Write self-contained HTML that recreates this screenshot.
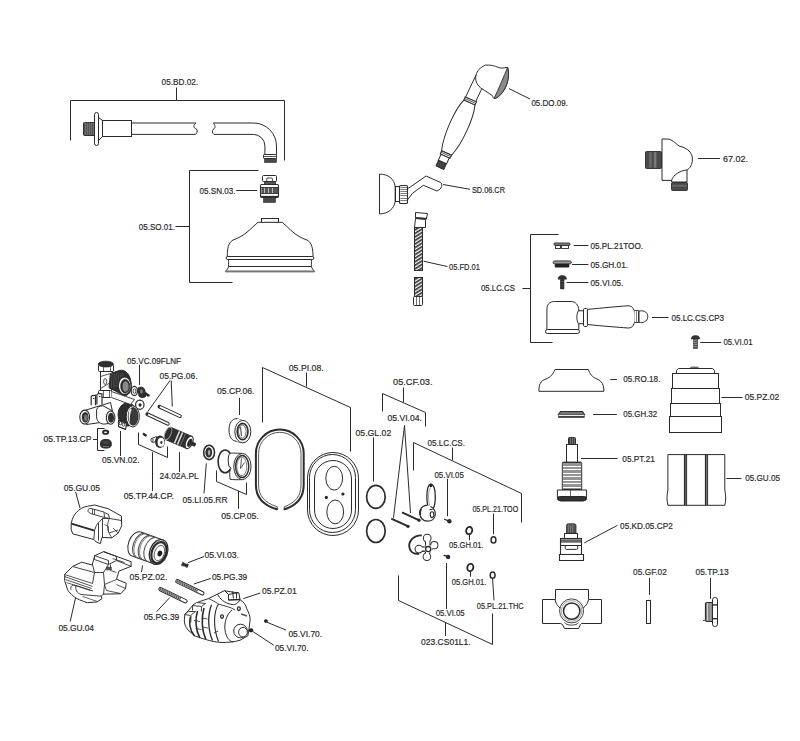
<!DOCTYPE html>
<html><head><meta charset="utf-8"><style>
html,body{margin:0;padding:0;background:#fff;}
svg{display:block;}
text{font-family:"Liberation Sans",sans-serif;fill:#2a2a2a;stroke:#2a2a2a;stroke-width:0.2px;}
</style></head><body>
<svg width="800" height="741" viewBox="0 0 800 741">
<rect width="800" height="741" fill="#fff"/>
<text x="161.6" y="84.7" textLength="36.50" lengthAdjust="spacingAndGlyphs" font-size="9.2">05.BD.02.</text>
<text x="199.5" y="194.2" textLength="36.00" lengthAdjust="spacingAndGlyphs" font-size="9.2">05.SN.03.</text>
<text x="138.75" y="230.2" textLength="36.25" lengthAdjust="spacingAndGlyphs" font-size="9.2">05.SO.01.</text>
<text x="531.4" y="105.6" textLength="36.60" lengthAdjust="spacingAndGlyphs" font-size="9.2">05.DO.09.</text>
<text x="471.9" y="193.2" textLength="33.10" lengthAdjust="spacingAndGlyphs" font-size="9.2">SD.06.CR</text>
<text x="449" y="269.8" textLength="31.00" lengthAdjust="spacingAndGlyphs" font-size="9.2">05.FD.01</text>
<text x="481" y="290.8" textLength="33.90" lengthAdjust="spacingAndGlyphs" font-size="9.2">05.LC.CS</text>
<text x="723" y="162.2" textLength="25.00" lengthAdjust="spacingAndGlyphs" font-size="9.2">67.02.</text>
<text x="590.5" y="249.2" textLength="52.50" lengthAdjust="spacingAndGlyphs" font-size="9.2">05.PL.21TOO.</text>
<text x="590.5" y="267.8" textLength="37.50" lengthAdjust="spacingAndGlyphs" font-size="9.2">05.GH.01.</text>
<text x="590.5" y="285.8" textLength="33.00" lengthAdjust="spacingAndGlyphs" font-size="9.2">05.VI.05.</text>
<text x="671.5" y="320.6" textLength="52.50" lengthAdjust="spacingAndGlyphs" font-size="9.2">05.LC.CS.CP3</text>
<text x="723.4" y="344.6" textLength="29.10" lengthAdjust="spacingAndGlyphs" font-size="9.2">05.VI.01</text>
<text x="127" y="363.7" textLength="54.00" lengthAdjust="spacingAndGlyphs" font-size="9.2">05.VC.09FLNF</text>
<text x="159.5" y="379.2" textLength="38.00" lengthAdjust="spacingAndGlyphs" font-size="9.2">05.PG.06.</text>
<text x="43.5" y="441.95" textLength="48.00" lengthAdjust="spacingAndGlyphs" font-size="9.2">05.TP.13.CP</text>
<text x="102" y="463.2" textLength="37.50" lengthAdjust="spacingAndGlyphs" font-size="9.2">05.VN.02.</text>
<text x="123.75" y="498.7" textLength="50.00" lengthAdjust="spacingAndGlyphs" font-size="9.2">05.TP.44.CP.</text>
<text x="159.5" y="479.2" textLength="39.25" lengthAdjust="spacingAndGlyphs" font-size="9.2">24.02A.PL</text>
<text x="182.5" y="503.2" textLength="45.00" lengthAdjust="spacingAndGlyphs" font-size="9.2">05.LI.05.RR</text>
<text x="63.75" y="490.8" textLength="36.25" lengthAdjust="spacingAndGlyphs" font-size="9.2">05.GU.05</text>
<text x="288.75" y="370.7" textLength="35.00" lengthAdjust="spacingAndGlyphs" font-size="9.2">05.PI.08.</text>
<text x="217" y="394.45" textLength="37.50" lengthAdjust="spacingAndGlyphs" font-size="9.2">05.CP.06.</text>
<text x="221.25" y="519.45" textLength="37.50" lengthAdjust="spacingAndGlyphs" font-size="9.2">05.CP.05.</text>
<text x="355.5" y="435.7" textLength="35.75" lengthAdjust="spacingAndGlyphs" font-size="9.2">05.GL.02</text>
<text x="393" y="385.2" textLength="39.50" lengthAdjust="spacingAndGlyphs" font-size="9.2">05.CF.03.</text>
<text x="387.5" y="421.45" textLength="34.50" lengthAdjust="spacingAndGlyphs" font-size="9.2">05.VI.04.</text>
<text x="427.5" y="446.2" textLength="37.50" lengthAdjust="spacingAndGlyphs" font-size="9.2">05.LC.CS.</text>
<text x="434.5" y="478.2" textLength="29.25" lengthAdjust="spacingAndGlyphs" font-size="9.2">05.VI.05</text>
<text x="472.4" y="511.8" textLength="45.80" lengthAdjust="spacingAndGlyphs" font-size="9.2">05.PL.21.TOO</text>
<text x="449" y="547.5" textLength="34.70" lengthAdjust="spacingAndGlyphs" font-size="9.2">05.GH.01.</text>
<text x="435.7" y="615.5" textLength="29.00" lengthAdjust="spacingAndGlyphs" font-size="9.2">05.VI.05</text>
<text x="451.7" y="584.8" textLength="34.60" lengthAdjust="spacingAndGlyphs" font-size="9.2">05.GH.01.</text>
<text x="476.8" y="608.6" textLength="46.80" lengthAdjust="spacingAndGlyphs" font-size="9.2">05.PL.21.THC</text>
<text x="421" y="644.7" textLength="49.70" lengthAdjust="spacingAndGlyphs" font-size="9.2">023.CS01L1.</text>
<text x="129.6" y="580.4" textLength="37.80" lengthAdjust="spacingAndGlyphs" font-size="9.2">05.PZ.02.</text>
<text x="58.4" y="631.2" textLength="35.60" lengthAdjust="spacingAndGlyphs" font-size="9.2">05.GU.04</text>
<text x="143.7" y="619.7" textLength="35.60" lengthAdjust="spacingAndGlyphs" font-size="9.2">05.PG.39</text>
<text x="204.5" y="557.95" textLength="34.40" lengthAdjust="spacingAndGlyphs" font-size="9.2">05.VI.03.</text>
<text x="211.9" y="580.45" textLength="35.30" lengthAdjust="spacingAndGlyphs" font-size="9.2">05.PG.39</text>
<text x="262" y="594.4" textLength="34.70" lengthAdjust="spacingAndGlyphs" font-size="9.2">05.PZ.01</text>
<text x="288.4" y="637.2" textLength="33.70" lengthAdjust="spacingAndGlyphs" font-size="9.2">05.VI.70.</text>
<text x="274.9" y="651.3" textLength="33.70" lengthAdjust="spacingAndGlyphs" font-size="9.2">05.VI.70.</text>
<text x="623.3" y="382.45" textLength="37.10" lengthAdjust="spacingAndGlyphs" font-size="9.2">05.RO.18.</text>
<text x="623.3" y="417.2" textLength="33.80" lengthAdjust="spacingAndGlyphs" font-size="9.2">05.GH.32</text>
<text x="622.3" y="461.6" textLength="32.50" lengthAdjust="spacingAndGlyphs" font-size="9.2">05.PT.21</text>
<text x="744.7" y="400.4" textLength="34.60" lengthAdjust="spacingAndGlyphs" font-size="9.2">05.PZ.02</text>
<text x="745.2" y="480.6" textLength="34.80" lengthAdjust="spacingAndGlyphs" font-size="9.2">05.GU.05</text>
<text x="620.1" y="528.5" textLength="52.65" lengthAdjust="spacingAndGlyphs" font-size="9.2">05.KD.05.CP2</text>
<text x="633.1" y="575.3" textLength="33.80" lengthAdjust="spacingAndGlyphs" font-size="9.2">05.GF.02</text>
<text x="695.5" y="575.3" textLength="33.10" lengthAdjust="spacingAndGlyphs" font-size="9.2">05.TP.13</text>
<path d="M70.5,140.5 V100.5 H284.5 V160.5" fill="none" stroke="#2b2b2b" stroke-width="1.0" />
<line x1="176.5" y1="87.5" x2="176.5" y2="100.3" stroke="#2b2b2b" stroke-width="1.0"/>
<rect x="83.5" y="122.5" width="12.0" height="13.0" rx="1" fill="#555" stroke="#2b2b2b" stroke-width="1.0" />
<line x1="85.5" y1="122.5" x2="85.5" y2="135" stroke="#888" stroke-width="0.5"/>
<line x1="87.5" y1="122.5" x2="87.5" y2="135" stroke="#888" stroke-width="0.5"/>
<line x1="89.5" y1="122.5" x2="89.5" y2="135" stroke="#888" stroke-width="0.5"/>
<line x1="91.5" y1="122.5" x2="91.5" y2="135" stroke="#888" stroke-width="0.5"/>
<line x1="93.5" y1="122.5" x2="93.5" y2="135" stroke="#888" stroke-width="0.5"/>
<rect x="94.5" y="112.5" width="4.0" height="33.0" rx="2" fill="#fff" stroke="#2b2b2b" stroke-width="1.0" />
<path d="M98.5,117.5 L102.5,120.5 M98.5,140.5 L102.5,136.5" fill="none" stroke="#2b2b2b" stroke-width="1.0" />
<rect x="102.5" y="120.5" width="29.0" height="16.0" rx="0" fill="#fff" stroke="#2b2b2b" stroke-width="1.0" />
<path d="M131.8,123 H196 C193,125 193,128 196.5,129 C198,131 197,133 195.5,134.4 H131.8" fill="none" stroke="#2b2b2b" stroke-width="1.0" />
<path d="M213.3,123 H253.5 A23,23 0 0 1 276.5,146 V155.7 M264.9,155.7 V146 A11.6,11.6 0 0 0 253.3,134.4 H214 C212,133 212,131 213.5,129 C216,128 215,125 213.3,123" fill="none" stroke="#2b2b2b" stroke-width="1.0" />
<rect x="263.5" y="154.5" width="13.0" height="4.0" rx="0.8" fill="#fff" stroke="#2b2b2b" stroke-width="1.0" />
<line x1="263.8" y1="156.5" x2="276.8" y2="156.5" stroke="#2b2b2b" stroke-width="0.8"/>
<rect x="264.5" y="158.5" width="12.0" height="4.0" rx="0" fill="#4a4a4a" stroke="#2b2b2b" stroke-width="0.6" />
<path d="M258.5,170.5 H189.5 V282.5 H232.5" fill="none" stroke="#2b2b2b" stroke-width="1.0" />
<line x1="175.5" y1="226.5" x2="189.5" y2="226.5" stroke="#2b2b2b" stroke-width="1.0"/>
<line x1="236.2" y1="190.5" x2="257.2" y2="190.5" stroke="#2b2b2b" stroke-width="1.0"/>
<rect x="262.5" y="175.5" width="14.0" height="6.0" rx="1" fill="#fff" stroke="#2b2b2b" stroke-width="1.0" />
<path d="M266.8,181 V178.6 C266.8,178.2 267.2,178 268,178 H271.4 C272,178 272.4,178.2 272.4,178.6 V181" fill="none" stroke="#2b2b2b" stroke-width="0.9" />
<rect x="264.5" y="181.5" width="11.0" height="3.0" rx="0" fill="#555" stroke="#2b2b2b" stroke-width="0.8" />
<rect x="260.5" y="184.5" width="18.0" height="13.0" rx="1.2" fill="#fff" stroke="#2b2b2b" stroke-width="1.1" />
<rect x="261.4" y="187.1" width="16.8" height="6.7" rx="0" fill="#555" stroke="#2b2b2b" stroke-width="0" />
<line x1="264.5" y1="187.1" x2="264.5" y2="193.8" stroke="#bbb" stroke-width="1"/>
<line x1="268.5" y1="187.1" x2="268.5" y2="193.8" stroke="#bbb" stroke-width="1"/>
<line x1="272.5" y1="187.1" x2="272.5" y2="193.8" stroke="#bbb" stroke-width="1"/>
<line x1="261" y1="187.5" x2="278.6" y2="187.5" stroke="#2b2b2b" stroke-width="0.8"/>
<line x1="261" y1="193.5" x2="278.6" y2="193.5" stroke="#2b2b2b" stroke-width="0.8"/>
<line x1="261" y1="196.5" x2="278.6" y2="196.5" stroke="#2b2b2b" stroke-width="1.2"/>
<rect x="263.5" y="197.5" width="12.0" height="5.0" rx="0" fill="#4a4a4a" stroke="#2b2b2b" stroke-width="0.6" />
<rect x="261.5" y="218.5" width="17.0" height="4.0" rx="0" fill="#fff" stroke="#2b2b2b" stroke-width="1.0" />
<path d="M258,222.3 H282.3 C290,229 295,236 307,240 C312,243 313,249 313,256.5 H227.3 C227.3,249 228,243 233,240 C245,236 250,229 258,222.3 Z" fill="#fff" stroke="#2b2b2b" stroke-width="1.0" />
<rect x="226.1" y="256.5" width="87.8" height="3" rx="1.5" fill="#fff" stroke="#2b2b2b" stroke-width="1.0" />
<path d="M228.2,259.5 C229,262 228.5,264 228.6,266.5 M311.8,259.5 C311,262 311.5,264 311.4,266.5" fill="none" stroke="#2b2b2b" stroke-width="1.0" />
<line x1="228.6" y1="266.5" x2="311.4" y2="266.5" stroke="#2b2b2b" stroke-width="1.0"/>
<path d="M228.6,266.5 C228.2,268.5 226.8,270 225.5,271.3 H314.5 C313.2,270 311.8,268.5 311.4,266.5" fill="none" stroke="#2b2b2b" stroke-width="1.0" />
<rect x="225.5" y="270.6" width="89" height="1.8" rx="0" fill="#777" stroke="#2b2b2b" stroke-width="0" />
<line x1="509" y1="88.6" x2="530" y2="99" stroke="#2b2b2b" stroke-width="1.0"/>
<g transform="translate(457.3,129.3) rotate(24.4)">
<path d="M-6,-29.5 C-10.5,-17 -10.5,10 -5.5,26 L5.5,26 C10.5,10 10.5,-17 6,-29.5 Z" fill="#fff" stroke="#2b2b2b" stroke-width="1.0" />
<path d="M-6.2,-33 L6.2,-33 L6,-29.5 L-6,-29.5 Z" fill="#fff" stroke="#2b2b2b" stroke-width="1.0" />
<line x1="-6" y1="-31.2" x2="6" y2="-31.2" stroke="#2b2b2b" stroke-width="0.7"/>
<path d="M-5.5,26 L5.5,26 L5.3,29.5 L-5.3,29.5 Z" fill="#fff" stroke="#2b2b2b" stroke-width="1.0" />
<line x1="-5.4" y1="27.6" x2="5.4" y2="27.6" stroke="#2b2b2b" stroke-width="0.7"/>
<rect x="-4.5" y="29.5" width="9" height="6.5" rx="0" fill="#fff" stroke="#2b2b2b" stroke-width="1.0" />
<rect x="-4.3" y="36" width="8.6" height="6.2" rx="0.5" fill="#444" stroke="#2b2b2b" stroke-width="1.0" />
</g>
<path d="M465.6,97 L476.1,74.9 C477,71 480,67.5 485.5,65.1 C490,64.8 493,65.6 495.3,66.25 C498,67.3 500,68.1 502,68.1 C504,68 506,67.5 507.6,67.4 C510,74 508,87 500.5,94.75 C498,97 496,98.5 494.1,98.5 C493,97.5 492.5,96 492.25,95.5 C489,93.5 485,90.5 482.5,89.1 C481.5,89 481,89.5 481,90.25 L475.75,101.5 Z" fill="#fff" stroke="#2b2b2b" stroke-width="1.0" />
<path d="M507.6,67.4 C510,74 508,87 500.5,94.75 C498,97 496,98.5 494.1,98.5 C499,88 504,76 507.6,67.4 Z" fill="#8a8a8a" stroke="#2b2b2b" stroke-width="0.9" />
<path d="M476.1,74.9 C474.5,80 477,86 482.5,89.1" fill="none" stroke="#2b2b2b" stroke-width="1.0" />
<path d="M379.5,174.1 C388,174.1 394.5,179 395.15,186.5 V201.3 C394.5,208.5 388,213.9 379.5,213.9 Z" fill="#fff" stroke="#2b2b2b" stroke-width="1.0" />
<rect x="395.5" y="186.5" width="4.0" height="15.0" rx="0" fill="#fff" stroke="#2b2b2b" stroke-width="1.0" />
<path d="M407.8,188 L408.7,188.1 L426.1,176 L440.6,182.5 C442.5,184 442.5,189 436.9,191 L423.3,185.3 L412.5,193.3 L407.8,199.5" fill="#fff" stroke="#2b2b2b" stroke-width="1.0" />
<rect x="399.5" y="185.5" width="8.0" height="18.0" rx="1.3" fill="#fff" stroke="#2b2b2b" stroke-width="1.1" />
<line x1="400.3" y1="187.5" x2="407.3" y2="187.5" stroke="#444" stroke-width="0.7"/>
<line x1="400.3" y1="189.5" x2="407.3" y2="189.5" stroke="#444" stroke-width="0.7"/>
<line x1="400.3" y1="191.5" x2="407.3" y2="191.5" stroke="#444" stroke-width="0.7"/>
<line x1="400.3" y1="193.5" x2="407.3" y2="193.5" stroke="#444" stroke-width="0.7"/>
<line x1="400.3" y1="195.5" x2="407.3" y2="195.5" stroke="#444" stroke-width="0.7"/>
<line x1="400.3" y1="198.5" x2="407.3" y2="198.5" stroke="#444" stroke-width="0.7"/>
<line x1="400.3" y1="200.5" x2="407.3" y2="200.5" stroke="#444" stroke-width="0.7"/>
<line x1="443" y1="184.5" x2="470" y2="189.3" stroke="#2b2b2b" stroke-width="1.0"/>
<path d="M415.5,212.5 L427.5,213.5 L426.5,218.5 L415.5,217.5 Z" fill="#fff" stroke="#2b2b2b" stroke-width="1.0" />
<line x1="415.3" y1="218.3" x2="426.8" y2="218.8" stroke="#2b2b2b" stroke-width="1.6"/>
<path d="M415.5,218.5 L425.5,219.5 L425.5,227.5 L414.5,227.5 Z" fill="#fff" stroke="#2b2b2b" stroke-width="1.0" />
<defs><pattern id="hatch" width="3" height="3" patternUnits="userSpaceOnUse" patternTransform="rotate(58)"><rect width="3" height="3" fill="#fff"/><rect width="1.7" height="3" fill="#333"/></pattern></defs>
<rect x="414.5" y="227.5" width="8.0" height="43.0" rx="0" fill="url(#hatch)" stroke="#2b2b2b" stroke-width="1.0" />
<rect x="414.5" y="277.5" width="8.0" height="19.0" rx="0" fill="url(#hatch)" stroke="#2b2b2b" stroke-width="1.0" />
<rect x="413.5" y="296.5" width="9.0" height="9.0" rx="1" fill="#fff" stroke="#2b2b2b" stroke-width="1.0" />
<line x1="416.5" y1="296.3" x2="416.5" y2="305" stroke="#2b2b2b" stroke-width="0.7"/>
<line x1="419.5" y1="296.3" x2="419.5" y2="305" stroke="#2b2b2b" stroke-width="0.7"/>
<line x1="423.7" y1="261.2" x2="447.5" y2="266.6" stroke="#2b2b2b" stroke-width="1.0"/>
<rect x="645.5" y="151.5" width="16.0" height="17.0" rx="1" fill="#4a4a4a" stroke="#2b2b2b" stroke-width="0.9" />
<rect x="649" y="152.1" width="3" height="15.6" rx="0" fill="#666" stroke="#2b2b2b" stroke-width="0" />
<rect x="653.8" y="152.1" width="2.6" height="15.6" rx="0" fill="#7a7a7a" stroke="#2b2b2b" stroke-width="0" />
<path d="M662,139 H667 C672,139 675,143 679,146 C688,148 692.4,153 692.4,159 C692.4,165 690,168 687,170 V182 H671.6 V180.4 H662 Z" fill="#fff" stroke="#2b2b2b" stroke-width="1.0" />
<path d="M671.6,180.4 C673,175 680,170.5 687,170" fill="none" stroke="#2b2b2b" stroke-width="1.0" />
<rect x="671.5" y="182.5" width="16.0" height="8.0" rx="1" fill="#4a4a4a" stroke="#2b2b2b" stroke-width="0.9" />
<rect x="672.1" y="184.8" width="14.8" height="1.8" rx="0" fill="#6a6a6a" stroke="#2b2b2b" stroke-width="0" />
<line x1="698" y1="158.5" x2="720" y2="158.5" stroke="#2b2b2b" stroke-width="1.0"/>
<path d="M558.5,234.5 H530.5 V342.5 H552.5" fill="none" stroke="#2b2b2b" stroke-width="1.0" />
<line x1="522.4" y1="288.5" x2="530.5" y2="288.5" stroke="#2b2b2b" stroke-width="1.0"/>
<rect x="553.9" y="243" width="16.2" height="2.3" rx="1.1" fill="#888" stroke="#2b2b2b" stroke-width="0.9" />
<rect x="555.5" y="245.5" width="5.0" height="3.0" rx="0" fill="#fff" stroke="#2b2b2b" stroke-width="0.9" />
<rect x="561.5" y="245.5" width="7.0" height="3.0" rx="0" fill="#fff" stroke="#2b2b2b" stroke-width="0.9" />
<line x1="573.7" y1="245.5" x2="588.4" y2="245.5" stroke="#2b2b2b" stroke-width="1.0"/>
<rect x="553.1" y="260.9" width="18.2" height="3" rx="1.5" fill="#999" stroke="#2b2b2b" stroke-width="0.9" />
<rect x="554.7" y="263.9" width="14.6" height="3.5" rx="1" fill="#222" stroke="#2b2b2b" stroke-width="0" />
<line x1="572.1" y1="264.5" x2="588.4" y2="264.5" stroke="#2b2b2b" stroke-width="1.0"/>
<path d="M558,279.2 C558,276.6 559.8,275.5 562.2,275.5 C564.6,275.5 566.5,276.6 566.5,279.2 Z" fill="#333" stroke="#2b2b2b" stroke-width="0.6" />
<rect x="560.1" y="279.1" width="4.2" height="10.2" rx="0.8" fill="#2e2e2e" stroke="#2b2b2b" stroke-width="0" />
<line x1="560.3" y1="281.5" x2="564.1" y2="281.5" stroke="#777" stroke-width="0.4"/>
<line x1="560.3" y1="284.5" x2="564.1" y2="284.5" stroke="#777" stroke-width="0.4"/>
<line x1="560.3" y1="286.5" x2="564.1" y2="286.5" stroke="#777" stroke-width="0.4"/>
<line x1="566.5" y1="282.5" x2="588.4" y2="282.5" stroke="#2b2b2b" stroke-width="1.0"/>
<path d="M546.9,329.5 V309.5 C546.9,304.5 549.5,301.5 554.5,301.5 H571 C575.5,301.5 578.8,305 578.8,310.5 V329.5 Z" fill="#fff" stroke="#2b2b2b" stroke-width="1.0" />
<rect x="545.5" y="329.5" width="34.0" height="4.0" rx="2" fill="#fff" stroke="#2b2b2b" stroke-width="1.0" />
<path d="M578.5,310.8 H584 V323.7 H578.5 C576.5,321 576.2,313.5 578.5,310.8 Z" fill="#fff" stroke="#2b2b2b" stroke-width="1.0" />
<rect x="583.5" y="308.5" width="4.0" height="18.0" rx="1.2" fill="#fff" stroke="#2b2b2b" stroke-width="1.0" />
<path d="M587.4,309.4 C602,308 617,306.5 628,305.8 C633,305.6 635,310 635,317 C635,324 633,328.2 628,328 C617,327.2 602,326 587.4,324.5 Z" fill="#fff" stroke="#2b2b2b" stroke-width="1.0" />
<path d="M634.5,310.5 H638.5 V322.5 H634.5" fill="#fff" stroke="#2b2b2b" stroke-width="0.9" />
<line x1="636.5" y1="311.2" x2="636.5" y2="322.8" stroke="#2b2b2b" stroke-width="0.6"/>
<path d="M639,311.2 C642,310.2 647.8,311 647.8,316.6 C647.8,322 642,323.2 639,322.3 Z" fill="#fff" stroke="#2b2b2b" stroke-width="1.0" />
<line x1="652" y1="317.5" x2="668.5" y2="317.5" stroke="#2b2b2b" stroke-width="1.0"/>
<path d="M691.3,339 C691.3,336.5 693,335.6 695.5,335.6 C698,335.6 699.7,336.5 699.7,339 Z" fill="#333" stroke="#2b2b2b" stroke-width="0.6" />
<rect x="693.5" y="338.5" width="4.0" height="10.0" rx="0" fill="#555" stroke="#2b2b2b" stroke-width="0.6" />
<line x1="693.5" y1="340.5" x2="697" y2="340.5" stroke="#bbb" stroke-width="0.5"/>
<line x1="693.5" y1="342.5" x2="697" y2="342.5" stroke="#bbb" stroke-width="0.5"/>
<line x1="693.5" y1="344.5" x2="697" y2="344.5" stroke="#bbb" stroke-width="0.5"/>
<line x1="693.5" y1="346.5" x2="697" y2="346.5" stroke="#bbb" stroke-width="0.5"/>
<line x1="700.3" y1="342.5" x2="721.3" y2="342.5" stroke="#2b2b2b" stroke-width="1.0"/>
<path d="M555,369.5 H588.3 C590,374 592,377 597,379 C602,381 603.9,385 603.9,391.3 H538.9 C538.9,385 540,381 546,379 C551,377 553,374 555,369.5 Z" fill="#fff" stroke="#2b2b2b" stroke-width="1.0" />
<line x1="610.3" y1="379.5" x2="616.8" y2="379.5" stroke="#2b2b2b" stroke-width="1.0"/>
<path d="M560.5,411.5 H582.5 L584.5,414.5 H558.5 Z" fill="#777" stroke="#2b2b2b" stroke-width="1.1" />
<path d="M558.5,414.5 H584.5 V416.5 H558.5 Z" fill="#eee" stroke="#2b2b2b" stroke-width="0.5" />
<line x1="558.3" y1="417" x2="584.6" y2="417" stroke="#2b2b2b" stroke-width="1.6"/>
<line x1="593.1" y1="414.5" x2="616.8" y2="414.5" stroke="#2b2b2b" stroke-width="1.0"/>
<rect x="568.5" y="437.5" width="7.0" height="7.0" rx="1" fill="#444" stroke="#2b2b2b" stroke-width="1.0" />
<line x1="570.5" y1="437.5" x2="570.5" y2="444" stroke="#999" stroke-width="0.5"/>
<line x1="572.5" y1="437.5" x2="572.5" y2="444" stroke="#999" stroke-width="0.5"/>
<line x1="574.5" y1="437.5" x2="574.5" y2="444" stroke="#999" stroke-width="0.5"/>
<rect x="566.5" y="444.5" width="11.0" height="18.0" rx="0" fill="#fff" stroke="#2b2b2b" stroke-width="1.0" />
<path d="M562.3,463.5 C562.3,462.5 563,462.1 564,462.1 H580 C581,462.1 581.7,462.5 581.7,463.5 V489.5 H562.3 Z" fill="#fff" stroke="#2b2b2b" stroke-width="1.0" />
<line x1="562.5" y1="462.8" x2="581.5" y2="462.8" stroke="#2b2b2b" stroke-width="1.4"/>
<line x1="562.5" y1="464.5" x2="581.5" y2="464.5" stroke="#666" stroke-width="0.7"/>
<line x1="562.5" y1="465.5" x2="581.5" y2="465.5" stroke="#666" stroke-width="0.7"/>
<line x1="562.5" y1="467.5" x2="581.5" y2="467.5" stroke="#666" stroke-width="0.7"/>
<line x1="562.5" y1="468.5" x2="581.5" y2="468.5" stroke="#666" stroke-width="0.7"/>
<line x1="562.5" y1="470.5" x2="581.5" y2="470.5" stroke="#666" stroke-width="0.7"/>
<line x1="562.5" y1="471.5" x2="581.5" y2="471.5" stroke="#666" stroke-width="0.7"/>
<line x1="562.5" y1="472.5" x2="581.5" y2="472.5" stroke="#666" stroke-width="0.7"/>
<line x1="562.5" y1="474.5" x2="581.5" y2="474.5" stroke="#666" stroke-width="0.7"/>
<line x1="562.5" y1="475.5" x2="581.5" y2="475.5" stroke="#666" stroke-width="0.7"/>
<line x1="562.5" y1="477.5" x2="581.5" y2="477.5" stroke="#666" stroke-width="0.7"/>
<line x1="562.5" y1="478.5" x2="581.5" y2="478.5" stroke="#666" stroke-width="0.7"/>
<line x1="562.5" y1="479.5" x2="581.5" y2="479.5" stroke="#666" stroke-width="0.7"/>
<line x1="562.5" y1="481.5" x2="581.5" y2="481.5" stroke="#666" stroke-width="0.7"/>
<line x1="562.5" y1="482.5" x2="581.5" y2="482.5" stroke="#666" stroke-width="0.7"/>
<line x1="562.5" y1="484.5" x2="581.5" y2="484.5" stroke="#666" stroke-width="0.7"/>
<line x1="562.5" y1="485.5" x2="581.5" y2="485.5" stroke="#666" stroke-width="0.7"/>
<line x1="562.5" y1="486.5" x2="581.5" y2="486.5" stroke="#666" stroke-width="0.7"/>
<line x1="562.5" y1="488.5" x2="581.5" y2="488.5" stroke="#666" stroke-width="0.7"/>
<path d="M557.4,490 H586.6 V497 C586.6,499 585,501 583,501 H561 C559,501 557.4,499 557.4,497 Z" fill="#fff" stroke="#2b2b2b" stroke-width="1.0" />
<rect x="557.5" y="496.5" width="29.0" height="4.0" rx="2" fill="#333" stroke="#2b2b2b" stroke-width="1.0" />
<line x1="570.5" y1="490" x2="570.5" y2="496" stroke="#2b2b2b" stroke-width="0.7"/>
<line x1="581.1" y1="458.5" x2="617.5" y2="458.5" stroke="#2b2b2b" stroke-width="1.0"/>
<rect x="690.5" y="367.2" width="8" height="2" rx="1" fill="#fff" stroke="#2b2b2b" stroke-width="1.0" />
<path d="M678.5,368.5 H712.5 L714.5,370.5 V374.5 H676.5 V370.5 Z" fill="#fff" stroke="#2b2b2b" stroke-width="1.0" />
<rect x="672.5" y="373.5" width="46.0" height="15.0" rx="0" fill="#fff" stroke="#2b2b2b" stroke-width="1.0" />
<rect x="671.5" y="388.5" width="48.0" height="15.0" rx="0" fill="#fff" stroke="#2b2b2b" stroke-width="1.0" />
<rect x="670.5" y="403.5" width="50.0" height="13.0" rx="0" fill="#fff" stroke="#2b2b2b" stroke-width="1.0" />
<rect x="669.5" y="416.5" width="52.0" height="16.0" rx="0" fill="#fff" stroke="#2b2b2b" stroke-width="1.0" />
<line x1="721.5" y1="397.5" x2="742.5" y2="397.5" stroke="#2b2b2b" stroke-width="1.0"/>
<path d="M667.9,454.6 H724.8 V490 C726,496 726,500 724.8,505.3 H667.9 C666.7,500 666.7,496 667.9,490 Z" fill="#fff" stroke="#2b2b2b" stroke-width="1.0" />
<line x1="684.5" y1="454.6" x2="684.5" y2="505.3" stroke="#2b2b2b" stroke-width="1.2"/>
<line x1="686.5" y1="454.6" x2="686.5" y2="505.3" stroke="#2b2b2b" stroke-width="1.2"/>
<line x1="705.5" y1="454.6" x2="705.5" y2="505.3" stroke="#2b2b2b" stroke-width="1.2"/>
<line x1="707.5" y1="454.6" x2="707.5" y2="505.3" stroke="#2b2b2b" stroke-width="1.2"/>
<line x1="685.8" y1="455" x2="685.8" y2="505" stroke="#555" stroke-width="1.4"/>
<line x1="706.9" y1="455" x2="706.9" y2="505" stroke="#555" stroke-width="1.4"/>
<line x1="726.4" y1="478.5" x2="741.5" y2="478.5" stroke="#2b2b2b" stroke-width="1.0"/>
<path d="M566.5,533.2 V525.5 C566.5,524.3 567.3,523.8 568.5,523.8 H574 C575.2,523.8 576,524.3 576,525.5 V533.2 Z" fill="#555" stroke="#2b2b2b" stroke-width="0.8" />
<line x1="568.5" y1="524.5" x2="568.5" y2="532.5" stroke="#999" stroke-width="0.5"/>
<line x1="570.5" y1="524.5" x2="570.5" y2="532.5" stroke="#999" stroke-width="0.5"/>
<line x1="572.5" y1="524.5" x2="572.5" y2="532.5" stroke="#999" stroke-width="0.5"/>
<rect x="564.5" y="533.5" width="13.0" height="5.0" rx="0" fill="#fff" stroke="#2b2b2b" stroke-width="1" />
<rect x="560.5" y="538.5" width="21.0" height="16.0" rx="0" fill="#fff" stroke="#2b2b2b" stroke-width="1.1" />
<rect x="561" y="539.3" width="20.2" height="3.4" rx="0" fill="#666" stroke="#2b2b2b" stroke-width="0" />
<line x1="560.5" y1="545.5" x2="581.7" y2="545.5" stroke="#2b2b2b" stroke-width="1"/>
<path d="M565.2,545.6 V548.4 C565.2,549 565.7,549.4 566.5,549.4 H576.4 C577.2,549.4 577.7,549 577.7,548.4 V545.6" fill="none" stroke="#2b2b2b" stroke-width="1" />
<path d="M559.5,554.5 H583.5 L583.5,560.5 H559.5 Z" fill="#fff" stroke="#2b2b2b" stroke-width="1.1" />
<line x1="584.3" y1="542.9" x2="617.5" y2="525.3" stroke="#2b2b2b" stroke-width="1.0"/>
<path d="M555.5,599.5 V589.5 H588.5 V599.5 H601.5 V623.5 H581.5 L580.5,624.5 L578.5,628.5 H564.5 L562.5,624.5 L560.5,623.5 H542.5 V599.5 Z" fill="#fff" stroke="#2b2b2b" stroke-width="1.0" />
<path d="M555.1,599.7 C555.5,603 557.5,606 560,608 M588.4,599.7 C588,603 586,606 583.2,608" fill="none" stroke="#2b2b2b" stroke-width="1.0" />
<path d="M564.5,622.5 C566,626 577,626 578.5,622.5" fill="none" stroke="#2b2b2b" stroke-width="0.9" />
<ellipse cx="571.55" cy="610.9" rx="12" ry="12" fill="#fff" stroke="#2b2b2b" stroke-width="0.9" />
<ellipse cx="571.55" cy="610.9" rx="10.3" ry="10.3" fill="#fff" stroke="#666" stroke-width="0.6" />
<ellipse cx="571.7" cy="611.1" rx="8.2" ry="8.2" fill="#fff" stroke="#2b2b2b" stroke-width="1.5" />
<line x1="649.5" y1="578" x2="649.5" y2="594.9" stroke="#2b2b2b" stroke-width="1.0"/>
<rect x="646.5" y="600.5" width="4.0" height="23.0" rx="0" fill="#fff" stroke="#2b2b2b" stroke-width="1.0" />
<line x1="710.5" y1="578" x2="710.5" y2="598.8" stroke="#2b2b2b" stroke-width="1.0"/>
<rect x="705.5" y="602.5" width="8.0" height="19.0" rx="1.2" fill="#8a8a8a" stroke="#2b2b2b" stroke-width="1" />
<line x1="705.5" y1="602.8" x2="705.5" y2="620.5" stroke="#2b2b2b" stroke-width="1.2"/>
<line x1="707.5" y1="603" x2="707.5" y2="620.3" stroke="#ddd" stroke-width="0.8"/>
<line x1="710.5" y1="603" x2="710.5" y2="620.3" stroke="#aaa" stroke-width="0.6"/>
<rect x="712.5" y="597.5" width="5.0" height="29.0" rx="2.3" fill="#fff" stroke="#2b2b2b" stroke-width="1" />
<line x1="713" y1="604.9" x2="717.5" y2="604.9" stroke="#2b2b2b" stroke-width="1.4"/>
<line x1="713" y1="618.7" x2="717.5" y2="618.7" stroke="#2b2b2b" stroke-width="1.4"/>
<line x1="703" y1="620.5" x2="705.2" y2="620.5" stroke="#2b2b2b" stroke-width="0.8"/>
<path d="M262.5,422.5 V367.5 L350.5,407.5 V451.5" fill="none" stroke="#2b2b2b" stroke-width="1.0" />
<line x1="306.5" y1="372.5" x2="306.5" y2="386.5" stroke="#2b2b2b" stroke-width="1.0"/>
<path d="M277,509.3 C262,505 255.9,497 255.9,485 V453.5 A23.9,23.9 0 0 1 303.7,453.5 V485 C303.7,497 298,505 284.5,509.3" fill="none" stroke="#2b2b2b" stroke-width="2.0" stroke-linecap="round"/>
<path d="M277.3,506.8 C264,502.5 258.6,495.5 258.6,485 V453.5 A21.2,21.2 0 0 1 301,453.5 V485 C301,495.5 296,502.5 284.2,506.8" fill="none" stroke="#2b2b2b" stroke-width="0.8" />
<line x1="277" y1="509.3" x2="277.3" y2="506.8" stroke="#2b2b2b" stroke-width="0.8"/>
<line x1="284.5" y1="509.3" x2="284.2" y2="506.8" stroke="#2b2b2b" stroke-width="0.8"/>
<rect x="307.5" y="452.5" width="51.0" height="83.0" rx="25.6" fill="#fff" stroke="#2b2b2b" stroke-width="1.0" />
<rect x="309.5" y="454.5" width="46.0" height="78.0" rx="23" fill="#fff" stroke="#2b2b2b" stroke-width="1.0" />
<rect x="314.5" y="460.5" width="37.0" height="68.0" rx="18.5" fill="#fff" stroke="#2b2b2b" stroke-width="1.0" />
<ellipse cx="334.2" cy="478.2" rx="8.4" ry="11.9" fill="#fff" stroke="#2b2b2b" stroke-width="1.0" />
<ellipse cx="335.2" cy="511.9" rx="8.4" ry="11.9" fill="#fff" stroke="#2b2b2b" stroke-width="1.0" />
<ellipse cx="326.3" cy="497.4" rx="1.6" ry="1.6" fill="#222" stroke="#2b2b2b" stroke-width="0" />
<ellipse cx="342.9" cy="494" rx="1.6" ry="1.6" fill="#222" stroke="#2b2b2b" stroke-width="0" />
<line x1="373.5" y1="437.5" x2="373.5" y2="481.5" stroke="#2b2b2b" stroke-width="1.0"/>
<ellipse cx="375.9" cy="496.9" rx="9.3" ry="11.5" fill="#fff" stroke="#2b2b2b" stroke-width="1.7" />
<ellipse cx="375.9" cy="531" rx="9.3" ry="11.5" fill="#fff" stroke="#2b2b2b" stroke-width="1.7" />
<path d="M382.5,411.5 V393.5 L425.5,412.5 V426.5" fill="none" stroke="#2b2b2b" stroke-width="1.0" />
<line x1="403.5" y1="387.5" x2="403.5" y2="402.5" stroke="#2b2b2b" stroke-width="1.0"/>
<line x1="404.5" y1="425.5" x2="393.5" y2="517.8" stroke="#2b2b2b" stroke-width="1.0"/>
<line x1="404.5" y1="425.5" x2="410.5" y2="513" stroke="#2b2b2b" stroke-width="1.0"/>
<line x1="391.2" y1="518.7" x2="407.8" y2="526.2" stroke="#2b2b2b" stroke-width="2"/>
<ellipse cx="408" cy="526.3" rx="1.6" ry="1.6" fill="#222" stroke="#2b2b2b" stroke-width="0" />
<line x1="402" y1="512.4" x2="418.8" y2="520.1" stroke="#2b2b2b" stroke-width="2"/>
<ellipse cx="419" cy="520.2" rx="1.6" ry="1.6" fill="#222" stroke="#2b2b2b" stroke-width="0" />
<path d="M413.5,470.5 V442.5 L521.5,493.5 V522.5" fill="none" stroke="#2b2b2b" stroke-width="1.0" />
<line x1="452.5" y1="447.5" x2="452.5" y2="460" stroke="#2b2b2b" stroke-width="1.0"/>
<path d="M430.8,484 C428,484.5 426.9,490 426.9,497 C426.9,503 428,507.5 429.5,509.6 L432.5,509.6 C434.2,507.5 435.3,503 435.3,497 C435.3,490 433.6,484.5 430.8,484 Z" fill="#fff" stroke="#2b2b2b" stroke-width="1.3" />
<path d="M430.8,487.5 C429.3,488.5 428.6,492 428.6,497 C428.6,502 429.4,505.5 430.5,507.5" fill="none" stroke="#666" stroke-width="0.6" />
<ellipse cx="430.8" cy="485.8" rx="1.5" ry="1.4" fill="#222" stroke="#2b2b2b" stroke-width="0" />
<path d="M427.5,505.1 C422.5,505.5 419.9,509 419.9,513.3 C419.9,518 423,521.2 427.5,521.2 C432,521.2 435.3,518.5 435.3,514 C435.3,510.5 433.5,508 430.5,506.5" fill="#fff" stroke="#2b2b2b" stroke-width="1.2" />
<path d="M421,509 C420,511 419.9,513 420.2,515" fill="none" stroke="#2b2b2b" stroke-width="1.8" />
<line x1="429.5" y1="509.5" x2="432.5" y2="509.5" stroke="#2b2b2b" stroke-width="1"/>
<ellipse cx="432" cy="514.7" rx="1.8" ry="2.9" fill="#fff" stroke="#2b2b2b" stroke-width="1.1" />
<line x1="447.5" y1="478.8" x2="447.5" y2="516.3" stroke="#2b2b2b" stroke-width="1.0"/>
<line x1="444.2" y1="519.2" x2="448.5" y2="521" stroke="#2b2b2b" stroke-width="1.3"/>
<ellipse cx="449.4" cy="521.2" rx="2.2" ry="2.2" fill="#2b2b2b" stroke="#2b2b2b" stroke-width="0" />
<path d="M421.8,535.3 C413,535 408.5,542 409.3,547 C410,552 414,554.5 419.2,553.8" fill="none" stroke="#2b2b2b" stroke-width="1.8" />
<path d="M429.79,548.96 L429.06,537.93 L425.34,538.27 L426.61,549.24 Z" fill="#2b2b2b" stroke="#2b2b2b" stroke-width="2.0" />
<ellipse cx="427.2" cy="538.1" rx="3.4" ry="3.4" fill="#2b2b2b" stroke="#2b2b2b" stroke-width="2.0" />
<path d="M429.06,550.45 L435.22,546.64 L433.38,543.76 L427.34,547.75 Z" fill="#2b2b2b" stroke="#2b2b2b" stroke-width="2.0" />
<ellipse cx="434.3" cy="545.2" rx="3.1" ry="3.1" fill="#2b2b2b" stroke="#2b2b2b" stroke-width="2.0" />
<path d="M426.62,548.83 L425.11,556.39 L428.69,557.01 L429.78,549.37 Z" fill="#2b2b2b" stroke="#2b2b2b" stroke-width="2.0" />
<ellipse cx="426.9" cy="556.7" rx="3.3" ry="3.3" fill="#2b2b2b" stroke="#2b2b2b" stroke-width="2.0" />
<path d="M428.20,547.50 L418.90,547.28 L418.90,550.92 L428.20,550.70 Z" fill="#2b2b2b" stroke="#2b2b2b" stroke-width="2.0" />
<ellipse cx="418.9" cy="549.1" rx="3.3" ry="3.3" fill="#2b2b2b" stroke="#2b2b2b" stroke-width="2.0" />
<path d="M429.5,548.5 L429.5,537.5 L425.5,538.5 L426.5,549.5 Z" fill="#fff" stroke="none" stroke-width="0" />
<ellipse cx="427.2" cy="538.1" rx="3.4" ry="3.4" fill="#fff" stroke="none" stroke-width="0" />
<path d="M429.5,550.5 L435.5,546.5 L433.5,543.5 L427.5,547.5 Z" fill="#fff" stroke="none" stroke-width="0" />
<ellipse cx="434.3" cy="545.2" rx="3.1" ry="3.1" fill="#fff" stroke="none" stroke-width="0" />
<path d="M426.5,548.5 L425.5,556.5 L428.5,557.5 L429.5,549.5 Z" fill="#fff" stroke="none" stroke-width="0" />
<ellipse cx="426.9" cy="556.7" rx="3.3" ry="3.3" fill="#fff" stroke="none" stroke-width="0" />
<path d="M428.5,547.5 L418.5,547.5 L418.5,550.5 L428.5,550.5 Z" fill="#fff" stroke="none" stroke-width="0" />
<ellipse cx="418.9" cy="549.1" rx="3.3" ry="3.3" fill="#fff" stroke="none" stroke-width="0" />
<ellipse cx="428.2" cy="549.1" rx="3.6" ry="3.6" fill="#fff" stroke="none" stroke-width="0" />
<ellipse cx="428.2" cy="549.1" rx="2.6" ry="2.6" fill="#fff" stroke="#2b2b2b" stroke-width="1.3" />
<line x1="443.6" y1="555.1" x2="447.5" y2="556.6" stroke="#2b2b2b" stroke-width="1.3"/>
<ellipse cx="448.1" cy="557" rx="2.2" ry="2.2" fill="#2b2b2b" stroke="#2b2b2b" stroke-width="0" />
<line x1="446.5" y1="563" x2="446.5" y2="609" stroke="#2b2b2b" stroke-width="1.0"/>
<ellipse cx="469.2" cy="530.6" rx="3.0" ry="3.7" fill="#fff" stroke="#2b2b2b" stroke-width="1.9" transform="rotate(15 469.2 530.6)"/>
<line x1="469.5" y1="534.8" x2="469.5" y2="540.3" stroke="#2b2b2b" stroke-width="1.0"/>
<ellipse cx="493.5" cy="539.9" rx="2.4" ry="3.1" fill="#fff" stroke="#2b2b2b" stroke-width="1.5" />
<line x1="493.5" y1="513.5" x2="493.5" y2="534.2" stroke="#2b2b2b" stroke-width="1.0"/>
<ellipse cx="470.3" cy="567.5" rx="3.0" ry="3.7" fill="#fff" stroke="#2b2b2b" stroke-width="1.9" transform="rotate(15 470.3 567.5)"/>
<line x1="470.5" y1="571.5" x2="470.5" y2="576.7" stroke="#2b2b2b" stroke-width="1.0"/>
<ellipse cx="492.6" cy="575.2" rx="2.4" ry="3.1" fill="#fff" stroke="#2b2b2b" stroke-width="1.5" />
<line x1="492.6" y1="579" x2="494" y2="600.4" stroke="#2b2b2b" stroke-width="1.0"/>
<path d="M398.5,575.5 V600.5 L492.5,644.5 V613.5" fill="none" stroke="#2b2b2b" stroke-width="1.0" />
<line x1="445.5" y1="622.7" x2="445.5" y2="636" stroke="#2b2b2b" stroke-width="1.0"/>
<line x1="139.5" y1="364.8" x2="139.5" y2="385" stroke="#2b2b2b" stroke-width="1.0"/>
<line x1="170" y1="380.5" x2="147.7" y2="411.7" stroke="#2b2b2b" stroke-width="1.0"/>
<line x1="171.2" y1="380.5" x2="172.3" y2="406.5" stroke="#2b2b2b" stroke-width="1.0"/>
<path d="M104.5,428.5 H97.5 V450.5 H104.5" fill="none" stroke="#2b2b2b" stroke-width="1.0" />
<line x1="93" y1="439.5" x2="97.5" y2="439.5" stroke="#2b2b2b" stroke-width="1.0"/>
<line x1="120.5" y1="456" x2="120.5" y2="431" stroke="#2b2b2b" stroke-width="1.0"/>
<path d="M138.5,432.5 V444.5 L167.5,457.5 V446.5" fill="none" stroke="#2b2b2b" stroke-width="1.0" />
<line x1="152.5" y1="452.2" x2="152.5" y2="491" stroke="#2b2b2b" stroke-width="1.0"/>
<line x1="179.5" y1="452.2" x2="179.5" y2="472" stroke="#2b2b2b" stroke-width="1.0"/>
<line x1="206.3" y1="463.3" x2="204" y2="493.5" stroke="#2b2b2b" stroke-width="1.0"/>
<path d="M100.5,371.5 V390.5 H111.5 V380.5 L112.5,371.5 Z" fill="#fff" stroke="#2b2b2b" stroke-width="1.0" />
<path d="M100.5,376.5 L110.5,373.5 M100.5,388.5 L110.5,382.5" fill="none" stroke="#2b2b2b" stroke-width="0.8" />
<ellipse cx="105.2" cy="381.5" rx="1.6" ry="3" fill="#fff" stroke="#2b2b2b" stroke-width="0.8" />
<rect x="98.5" y="390.5" width="13.0" height="7.0" rx="1" fill="#fff" stroke="#2b2b2b" stroke-width="1.0" />
<line x1="103.5" y1="390.6" x2="103.5" y2="397" stroke="#2b2b2b" stroke-width="0.7"/>
<line x1="109.5" y1="390.6" x2="109.5" y2="397" stroke="#2b2b2b" stroke-width="0.7"/>
<rect x="98.5" y="364.5" width="15.0" height="7.0" rx="1" fill="#fff" stroke="#2b2b2b" stroke-width="1.0" />
<line x1="103.5" y1="364.5" x2="103.5" y2="371.3" stroke="#2b2b2b" stroke-width="0.7"/>
<line x1="110.5" y1="364.5" x2="110.5" y2="371.3" stroke="#2b2b2b" stroke-width="0.7"/>
<ellipse cx="105.8" cy="364.1" rx="7.6" ry="2.9" fill="#2e2e2e" stroke="#2b2b2b" stroke-width="0.8" />
<path d="M110.4,373.5 L119,370.6 C126,368.5 131.5,376 131.2,386 C131,392.5 128,396 124,395.5 L109,387.7 Z" fill="#2e2e2e" stroke="#2b2b2b" stroke-width="1.0" />
<line x1="112.0" y1="373" x2="111.4" y2="388.0" stroke="#666" stroke-width="0.5"/>
<line x1="114.2" y1="373" x2="113.60000000000001" y2="387.7" stroke="#666" stroke-width="0.5"/>
<line x1="116.4" y1="373" x2="115.80000000000001" y2="387.4" stroke="#666" stroke-width="0.5"/>
<line x1="118.6" y1="373" x2="118.0" y2="387.1" stroke="#666" stroke-width="0.5"/>
<line x1="120.8" y1="373" x2="120.2" y2="386.8" stroke="#666" stroke-width="0.5"/>
<line x1="123.0" y1="373" x2="122.4" y2="386.5" stroke="#666" stroke-width="0.5"/>
<ellipse cx="124.7" cy="385.8" rx="6.4" ry="8.9" fill="#fff" stroke="#2b2b2b" stroke-width="1.2" />
<ellipse cx="125.2" cy="386.2" rx="4.6" ry="7.0" fill="#2e2e2e" stroke="#2b2b2b" stroke-width="0.6" />
<ellipse cx="125.6" cy="386.5" rx="3.0" ry="5.2" fill="#888" stroke="#2b2b2b" stroke-width="0" />
<path d="M91.2,405.2 V397 C91.2,395.5 93,395.2 95.5,395.4 V405.2" fill="#fff" stroke="#2b2b2b" stroke-width="1.2" />
<path d="M96.9,404.6 V395 C97,393.5 99,393.5 102,393.8 V404.6" fill="#fff" stroke="#2b2b2b" stroke-width="1.2" />
<line x1="93" y1="398.5" x2="94.5" y2="398.5" stroke="#2b2b2b" stroke-width="1"/>
<line x1="99" y1="396.5" x2="100.5" y2="396.5" stroke="#2b2b2b" stroke-width="1"/>
<path d="M84.5,410.5 L110.5,402.5 L114.5,420.5 L86.5,424.5 Z" fill="#fff" stroke="#2b2b2b" stroke-width="1.0" />
<ellipse cx="84.7" cy="417.1" rx="4.9" ry="7" fill="#fff" stroke="#2b2b2b" stroke-width="1.1" />
<ellipse cx="85.2" cy="417.3" rx="3.4" ry="5.2" fill="#2e2e2e" stroke="#2b2b2b" stroke-width="0" />
<ellipse cx="85.8" cy="417.8" rx="1.8" ry="3.2" fill="#777" stroke="#2b2b2b" stroke-width="0" />
<path d="M96.6,410 C97,407 100,405.8 103,405.8 L112,410.6 L113,423 L104,424.1 C99,424 96.6,420 96.6,417 Z" fill="#fff" stroke="#2b2b2b" stroke-width="1.0" />
<ellipse cx="110.6" cy="417.6" rx="4.3" ry="6.6" fill="#fff" stroke="#2b2b2b" stroke-width="1.1" />
<ellipse cx="111" cy="417.8" rx="3" ry="5" fill="#2e2e2e" stroke="#2b2b2b" stroke-width="0" />
<ellipse cx="127.5" cy="414.5" rx="9.5" ry="11.6" fill="#2e2e2e" stroke="#2b2b2b" stroke-width="1" />
<ellipse cx="132.8" cy="416.4" rx="6.6" ry="10.6" fill="#fff" stroke="#2b2b2b" stroke-width="1.0" />
<ellipse cx="133.1" cy="416.4" rx="5.4" ry="9.4" fill="#3a3a3a" stroke="#2b2b2b" stroke-width="0" />
<path d="M130.2,409 C128.2,412 128.2,420 130,423.5 C129.5,419 129.8,413 131.8,409.5 Z" fill="#fff" stroke="#2b2b2b" stroke-width="0" />
<path d="M111.5,391.5 L134.5,399.5 L130.5,404.5 L111.5,397.5" fill="#fff" stroke="#2b2b2b" stroke-width="0.9" />
<ellipse cx="139.8" cy="404.7" rx="4.2" ry="4.6" fill="#fff" stroke="#2b2b2b" stroke-width="1.2" />
<ellipse cx="140.1" cy="405" rx="1.6" ry="1.8" fill="#2e2e2e" stroke="#2b2b2b" stroke-width="0" />
<path d="M118.5,420.5 L126.5,423.5 L125.5,429.5 L118.5,426.5 Z" fill="#fff" stroke="#2b2b2b" stroke-width="1.1" />
<ellipse cx="120.5" cy="423.3" rx="1.3" ry="1.6" fill="#fff" stroke="#2b2b2b" stroke-width="0.9" />
<ellipse cx="123.5" cy="424.6" rx="1.3" ry="1.6" fill="#fff" stroke="#2b2b2b" stroke-width="0.9" />
<line x1="119" y1="427" x2="125" y2="429" stroke="#2b2b2b" stroke-width="1"/>
<ellipse cx="134.3" cy="391" rx="3.2" ry="4.6" fill="#fff" stroke="#2b2b2b" stroke-width="1.3" />
<ellipse cx="134.5" cy="391.2" rx="1.4" ry="2.4" fill="#fff" stroke="#2b2b2b" stroke-width="0.9" />
<path d="M138,388 C140,386.5 143,387 144.5,389 L146,396 C144,398 140.5,398 139,396 Z" fill="#2e2e2e" stroke="#2b2b2b" stroke-width="1.0" />
<ellipse cx="141.5" cy="391.5" rx="1.5" ry="2.2" fill="#777" stroke="#2b2b2b" stroke-width="0" />
<line x1="145" y1="393" x2="148.5" y2="395.5" stroke="#2b2b2b" stroke-width="2.4"/>
<ellipse cx="148.5" cy="395.5" rx="1.2" ry="1.3" fill="#2e2e2e" stroke="#2b2b2b" stroke-width="0" />
<ellipse cx="105.6" cy="432.2" rx="2.6" ry="1.7" fill="#fff" stroke="#2b2b2b" stroke-width="1.8" />
<path d="M100.6,442.5 C100.6,440.5 103,439.4 105.9,439.4 C108.8,439.4 111.2,440.5 111.2,442.5 V445.5 C111.2,447.2 108.8,448.1 105.9,448.1 C103,448.1 100.6,447.2 100.6,445.5 Z" fill="#2e2e2e" stroke="#2b2b2b" stroke-width="1.0" />
<ellipse cx="105.9" cy="442.3" rx="3.4" ry="1.6" fill="#444" stroke="#2b2b2b" stroke-width="0" />
<line x1="103" y1="446.5" x2="109" y2="446.5" stroke="#aaa" stroke-width="0.6"/>
<g transform="translate(158.3,406.1) rotate(24.9)">
<rect x="0" y="-1.4" width="25.2" height="2.8" rx="1.4" fill="#fff" stroke="#2b2b2b" stroke-width="1.0" />
<rect x="-0.5" y="-1.3" width="2.5" height="2.6" rx="1" fill="#2e2e2e" stroke="#2b2b2b" stroke-width="0" />
</g>
<g transform="translate(146.2,413.7) rotate(25)">
<rect x="0" y="-1.4" width="25.2" height="2.8" rx="1.4" fill="#fff" stroke="#2b2b2b" stroke-width="1.0" />
<rect x="-0.5" y="-1.3" width="2.5" height="2.6" rx="1" fill="#2e2e2e" stroke="#2b2b2b" stroke-width="0" />
</g>
<line x1="143" y1="433.5" x2="146.5" y2="436" stroke="#2b2b2b" stroke-width="2.2"/>
<path d="M151.5,438.5 L156.5,436.5 L156.5,441.5 L152.5,442.5 Z" fill="#fff" stroke="#2b2b2b" stroke-width="0.9" />
<ellipse cx="152" cy="440.1" rx="1.1" ry="1.9" fill="#fff" stroke="#2b2b2b" stroke-width="0.9" />
<ellipse cx="160" cy="441.8" rx="5" ry="6.2" fill="#2e2e2e" stroke="#2b2b2b" stroke-width="0" />
<ellipse cx="161" cy="442.3" rx="3.4" ry="4.5" fill="#fff" stroke="#2b2b2b" stroke-width="0" />
<ellipse cx="161.4" cy="442.5" rx="1.1" ry="1.4" fill="#2e2e2e" stroke="#2b2b2b" stroke-width="0" />
<g transform="translate(168,433.4) rotate(23)">
<path d="M0,-6.7 H23 V6.7 H0 Z" fill="#2e2e2e" stroke="#2b2b2b" stroke-width="0.8" />
<ellipse cx="0" cy="0" rx="3" ry="6.7" fill="#2e2e2e" stroke="#aaa" stroke-width="0.9" />
<rect x="9" y="-6.5" width="1.6" height="13" rx="0" fill="#ddd" stroke="#2b2b2b" stroke-width="0" />
<rect x="12.3" y="-6.5" width="1.6" height="13" rx="0" fill="#ddd" stroke="#2b2b2b" stroke-width="0" />
<rect x="15.8" y="-6.5" width="0.8" height="13" rx="0" fill="#777" stroke="#2b2b2b" stroke-width="0" />
<ellipse cx="23" cy="0" rx="3.4" ry="6.7" fill="#fff" stroke="#2b2b2b" stroke-width="1.1" />
<ellipse cx="23.6" cy="0.2" rx="2.1" ry="4.3" fill="#2e2e2e" stroke="#2b2b2b" stroke-width="0" />
<rect x="24.5" y="-1.9" width="5.5" height="3.8" rx="1" fill="#2e2e2e" stroke="#2b2b2b" stroke-width="0" />
</g>
<ellipse cx="209.1" cy="452.4" rx="5.4" ry="7.2" fill="#fff" stroke="#2b2b2b" stroke-width="1.6" />
<ellipse cx="208.8" cy="452.4" rx="3.4" ry="5.2" fill="#2e2e2e" stroke="#2b2b2b" stroke-width="0" />
<ellipse cx="209.1" cy="452.6" rx="1.2" ry="2.8" fill="#aaa" stroke="#2b2b2b" stroke-width="0" />
<line x1="239.5" y1="397.8" x2="239.5" y2="415" stroke="#2b2b2b" stroke-width="1.0"/>
<path d="M236.5,418.5 L242.5,420.5 M236.5,441.5 L242.5,442.5" fill="none" stroke="#2b2b2b" stroke-width="1" />
<path d="M237,418.6 C232,418.6 229,423 229,430 C229,437 232,441.2 236.6,441.2" fill="none" stroke="#2b2b2b" stroke-width="1.0" />
<path d="M237,418.6 L243,420.4 C247.5,420.4 250.8,425 250.8,431.6 C250.8,438 247.5,442.8 242.6,442.8 L236.6,441.2" fill="#fff" stroke="none" stroke-width="1.0" />
<ellipse cx="242.8" cy="431.6" rx="8" ry="11.2" fill="#fff" stroke="#2b2b2b" stroke-width="1" />
<ellipse cx="242.6" cy="431.6" rx="5.4" ry="8.2" fill="#fff" stroke="#2b2b2b" stroke-width="1.6" />
<ellipse cx="242.3" cy="431.6" rx="3.8" ry="6.4" fill="#fff" stroke="#2b2b2b" stroke-width="0.7" />
<line x1="240.5" y1="427" x2="241.5" y2="436" stroke="#555" stroke-width="1.2"/>
<ellipse cx="225.1" cy="461.4" rx="7" ry="11.4" fill="#fff" stroke="#2b2b2b" stroke-width="1.6" />
<path d="M229,453.2 L242,453.4 L242.4,479.6 L230,479 C231,476 231,473 229.5,472 C231,471 231,470 230,469 L229,453.2 Z" fill="#fff" stroke="#2b2b2b" stroke-width="0" />
<path d="M229.5,453.5 C231,452.8 236,453.2 242,453.4 M230,479.2 C233,479.8 237,479.8 242.4,479.6" fill="none" stroke="#2b2b2b" stroke-width="1" />
<path d="M229.5,453.5 C228,456 227.8,462 229,466.5 C231,467 231.5,468.5 230,470 C229.5,473 229.8,477 230,479.2" fill="none" stroke="#2b2b2b" stroke-width="1" />
<ellipse cx="242.4" cy="466.5" rx="8.65" ry="13.1" fill="#fff" stroke="#2b2b2b" stroke-width="1" />
<ellipse cx="242.2" cy="466.5" rx="6.6" ry="11" fill="#fff" stroke="#2b2b2b" stroke-width="1.4" />
<ellipse cx="241.8" cy="466.5" rx="5" ry="9.2" fill="#fff" stroke="#2b2b2b" stroke-width="0.6" />
<path d="M241.5,458.5 L240.5,468.5 L244.5,462.5" fill="none" stroke="#2b2b2b" stroke-width="0.8" />
<path d="M216.5,470.5 V481.5 L246.5,494.5 V482.5" fill="none" stroke="#2b2b2b" stroke-width="1.0" />
<line x1="238.5" y1="490.9" x2="238.5" y2="508.8" stroke="#2b2b2b" stroke-width="1.0"/>
<line x1="75.6" y1="491.9" x2="80" y2="508" stroke="#2b2b2b" stroke-width="1.0"/>
<path d="M71.2,523.3 C72.5,518 74,515 76.1,512.8 C79.5,508.8 83,507 87.4,506.3 L94.7,505 L108.4,508.8 L121.4,516.1 L121.7,525.8 L118.2,533.1 L111.7,537.9 L102,537.4 L100.3,543.6 L96.3,542 L93.9,539.5 L72.8,533.9 L71.2,529.8 Z" fill="#fff" stroke="#2b2b2b" stroke-width="1.0" />
<line x1="71.4" y1="523.6" x2="94.5" y2="530.6" stroke="#2b2b2b" stroke-width="1.9"/>
<path d="M94.5,530.6 L93.9,539.5 M94.5,530.6 C95.5,527 97,524 98.6,522.5" fill="none" stroke="#2b2b2b" stroke-width="0.9" />
<path d="M88,510.5 C88,508.8 89.5,508.2 91,508.5 L104,512 L104.5,517.5 L92,514 C89.5,513.3 88,512.3 88,510.5 Z" fill="#fff" stroke="#2b2b2b" stroke-width="0.9" />
<line x1="92.5" y1="509" x2="92.5" y2="514" stroke="#2b2b2b" stroke-width="0.8"/>
<line x1="94.5" y1="509.5" x2="94.5" y2="514.5" stroke="#2b2b2b" stroke-width="0.8"/>
<path d="M104.5,512.5 L108.5,514.5 L109.5,518.5 L121.5,520.5 M104.5,517.5 L109.5,518.5" fill="none" stroke="#2b2b2b" stroke-width="0.9" />
<path d="M98.5,522.5 L102.5,518.5 L109.5,518.5 M102.5,518.5 L102.5,537.5 M98.5,522.5 L98.5,540.5" fill="none" stroke="#2b2b2b" stroke-width="0.9" />
<path d="M109.5,518 C107,523 107,530 109,533 L111.7,537.9 M113,528 L118.2,533.1 M109,533 L118,530" fill="none" stroke="#2b2b2b" stroke-width="0.8" />
<path d="M104.5,524.5 L108.5,526.5 L108.5,532.5" fill="none" stroke="#2b2b2b" stroke-width="0.7" />
<line x1="70.2" y1="621.5" x2="75.6" y2="597.7" stroke="#2b2b2b" stroke-width="1.0"/>
<path d="M64.7,574.4 L72.8,566.3 L81.7,562.2 L92.2,565 L94.7,555.7 L103.6,551.7 L131.1,561.7 L131.1,566.3 L119,571.1 L116.5,579.2 L126.3,583.3 L125.4,588.9 L120.6,593.8 L103.6,594.1 L101.2,596.2 L102,598.6 L97.1,601.9 L87.4,602.7 C82,601 77,599 74.4,597 C70,593 67.5,591 67.1,588.1 L64.7,580.8 Z" fill="#fff" stroke="#2b2b2b" stroke-width="1.0" />
<path d="M64.5,574.5 L92.5,583.5 M64.5,576.5 L92.5,586.5 M65.5,579.5 L91.5,588.5 M66.5,582.5 L90.5,590.5" fill="none" stroke="#2b2b2b" stroke-width="0.8" />
<path d="M72.5,566.5 L94.5,572.5 L92.5,583.5 M92.5,564.5 L94.5,572.5" fill="none" stroke="#2b2b2b" stroke-width="0.9" />
<path d="M94.5,555.5 V559.5 L108.5,564.5 V560.5 L94.5,555.5 M103.5,551.5 L116.5,556.5 V560.5 M108.5,564.5 L116.5,560.5 L131.5,566.5" fill="none" stroke="#2b2b2b" stroke-width="0.9" />
<path d="M112.5,558.5 L124.5,562.5 M110.5,564.5 L110.5,570.5 L116.5,572.5" fill="none" stroke="#2b2b2b" stroke-width="0.8" />
<path d="M94.5,572.5 L103.5,572.5 L108.5,564.5 M103.5,572.5 L104.5,584.5 L103.5,594.5" fill="none" stroke="#2b2b2b" stroke-width="0.9" />
<path d="M104.5,584.5 L116.5,579.5 M104.5,584.5 L106.5,590.5 L120.5,593.5 M116.5,584.5 L125.5,588.5" fill="none" stroke="#2b2b2b" stroke-width="0.8" />
<path d="M71,590 C70,586 72.5,584.5 76,585.5 L93,591 M76,585.5 C75,590 77,593 81,594.5 L101.2,596.2" fill="none" stroke="#2b2b2b" stroke-width="0.9" />
<path d="M82.5,596.5 L97.5,601.5" fill="none" stroke="#2b2b2b" stroke-width="0.7" />
<rect x="106.5" y="567" width="5" height="3" rx="0" fill="#555" stroke="#2b2b2b" stroke-width="0.4" />
<line x1="141.5" y1="572" x2="142.5" y2="565.5" stroke="#2b2b2b" stroke-width="1.0"/>
<g transform="translate(136.5,544) rotate(19.9)">
<path d="M0,-12.8 H23.5 V12.8 H0 Z" fill="#fff" stroke="none" stroke-width="0" />
<line x1="0" y1="-12.8" x2="23.5" y2="-12.8" stroke="#2b2b2b" stroke-width="1.0"/>
<line x1="0" y1="12.8" x2="23.5" y2="12.8" stroke="#2b2b2b" stroke-width="1.0"/>
<path d="M0,-12.8 C-4.5,-12.8 -8,-7 -8,0 C-8,7 -4.5,12.8 0,12.8" fill="#fff" stroke="#2b2b2b" stroke-width="1.0" />
<path d="M5,-12.8 C0.5,-12.8 -3,-7 -3,0 C-3,7 0.5,12.8 5,12.8" fill="none" stroke="#555" stroke-width="1.1" />
<path d="M6.5,-12.8 C2.0,-12.8 -1.5,-7 -1.5,0 C-1.5,7 2.0,12.8 6.5,12.8" fill="none" stroke="#555" stroke-width="0.7" />
<path d="M11,-12.8 C6.5,-12.8 3,-7 3,0 C3,7 6.5,12.8 11,12.8" fill="none" stroke="#555" stroke-width="1.1" />
<path d="M12.5,-12.8 C8.0,-12.8 4.5,-7 4.5,0 C4.5,7 8.0,12.8 12.5,12.8" fill="none" stroke="#555" stroke-width="0.7" />
<path d="M17,-12.8 C12.5,-12.8 9,-7 9,0 C9,7 12.5,12.8 17,12.8" fill="none" stroke="#555" stroke-width="1.1" />
<ellipse cx="23.5" cy="0" rx="8.8" ry="12.8" fill="#fff" stroke="#2b2b2b" stroke-width="1.3" />
<ellipse cx="24" cy="0.4" rx="7.1" ry="10.8" fill="#fff" stroke="#2b2b2b" stroke-width="2.2" />
<ellipse cx="24.6" cy="0.7" rx="4.8" ry="8" fill="#fff" stroke="#2b2b2b" stroke-width="0.7" />
<ellipse cx="25.2" cy="1" rx="2.3" ry="2.9" fill="#1e1e1e" stroke="#2b2b2b" stroke-width="0" />
</g>
<line x1="188.25" y1="562.6" x2="204" y2="556.5" stroke="#2b2b2b" stroke-width="1.0"/>
<g transform="translate(184.9,564.9) rotate(20)">
<path d="M-3,-1.8 L2,-1 V1 L-3,1.8 Z" fill="#333" stroke="#2b2b2b" stroke-width="0.6" />
<ellipse cx="2.3" cy="0" rx="1.3" ry="2.2" fill="#333" stroke="#2b2b2b" stroke-width="0" />
</g>
<line x1="193.9" y1="584" x2="210.75" y2="578.4" stroke="#2b2b2b" stroke-width="1.0"/>
<line x1="156.6" y1="611.7" x2="169.6" y2="597.7" stroke="#2b2b2b" stroke-width="1.0"/>
<g transform="translate(175.9,580.6) rotate(25.6)">
<rect x="0" y="-1.7" width="31" height="3.4" rx="1.7" fill="#fff" stroke="#2b2b2b" stroke-width="1" />
<rect x="1" y="-1.4" width="23" height="2.8" rx="0" fill="#5a5a5a" stroke="#2b2b2b" stroke-width="0" />
<line x1="2.0" y1="-1.4" x2="3.0" y2="1.4" stroke="#bbb" stroke-width="0.6"/>
<line x1="4.0" y1="-1.4" x2="5.0" y2="1.4" stroke="#bbb" stroke-width="0.6"/>
<line x1="6.0" y1="-1.4" x2="7.0" y2="1.4" stroke="#bbb" stroke-width="0.6"/>
<line x1="8.0" y1="-1.4" x2="9.0" y2="1.4" stroke="#bbb" stroke-width="0.6"/>
<line x1="10.0" y1="-1.4" x2="11.0" y2="1.4" stroke="#bbb" stroke-width="0.6"/>
<line x1="12.0" y1="-1.4" x2="13.0" y2="1.4" stroke="#bbb" stroke-width="0.6"/>
<line x1="14.0" y1="-1.4" x2="15.0" y2="1.4" stroke="#bbb" stroke-width="0.6"/>
<line x1="16.0" y1="-1.4" x2="17.0" y2="1.4" stroke="#bbb" stroke-width="0.6"/>
<line x1="18.0" y1="-1.4" x2="19.0" y2="1.4" stroke="#bbb" stroke-width="0.6"/>
<line x1="20.0" y1="-1.4" x2="21.0" y2="1.4" stroke="#bbb" stroke-width="0.6"/>
<line x1="22.0" y1="-1.4" x2="23.0" y2="1.4" stroke="#bbb" stroke-width="0.6"/>
</g>
<g transform="translate(159,588.5) rotate(25.6)">
<rect x="0" y="-1.7" width="31" height="3.4" rx="1.7" fill="#fff" stroke="#2b2b2b" stroke-width="1" />
<rect x="1" y="-1.4" width="23" height="2.8" rx="0" fill="#5a5a5a" stroke="#2b2b2b" stroke-width="0" />
<line x1="2.0" y1="-1.4" x2="3.0" y2="1.4" stroke="#bbb" stroke-width="0.6"/>
<line x1="4.0" y1="-1.4" x2="5.0" y2="1.4" stroke="#bbb" stroke-width="0.6"/>
<line x1="6.0" y1="-1.4" x2="7.0" y2="1.4" stroke="#bbb" stroke-width="0.6"/>
<line x1="8.0" y1="-1.4" x2="9.0" y2="1.4" stroke="#bbb" stroke-width="0.6"/>
<line x1="10.0" y1="-1.4" x2="11.0" y2="1.4" stroke="#bbb" stroke-width="0.6"/>
<line x1="12.0" y1="-1.4" x2="13.0" y2="1.4" stroke="#bbb" stroke-width="0.6"/>
<line x1="14.0" y1="-1.4" x2="15.0" y2="1.4" stroke="#bbb" stroke-width="0.6"/>
<line x1="16.0" y1="-1.4" x2="17.0" y2="1.4" stroke="#bbb" stroke-width="0.6"/>
<line x1="18.0" y1="-1.4" x2="19.0" y2="1.4" stroke="#bbb" stroke-width="0.6"/>
<line x1="20.0" y1="-1.4" x2="21.0" y2="1.4" stroke="#bbb" stroke-width="0.6"/>
<line x1="22.0" y1="-1.4" x2="23.0" y2="1.4" stroke="#bbb" stroke-width="0.6"/>
</g>
<line x1="243.4" y1="598.6" x2="260.25" y2="593" stroke="#2b2b2b" stroke-width="1.0"/>
<path d="M184.9,614.4 L187.1,612.1 L192.75,605.4 L198.4,602 L208.5,598.6 L217.5,594.1 L224.25,590.75 L238.9,593 L240,599.75 C244,602 246,605 246.75,608.75 C249,613 250.1,616 250.1,620 L249,629 L247.9,635.75 L240,640.25 C234,642 228,642.5 222,642.5 C214,642 209,640.5 204,639 L195,636 L188,630 C185.5,627 184.3,624 184.3,620 Z" fill="#fff" stroke="#2b2b2b" stroke-width="1.0" />
<path d="M184.5,614.5 L188.5,611.5 L195.5,611.5 L190.5,615.5 Z" fill="#fff" stroke="#2b2b2b" stroke-width="0.9" />
<line x1="191" y1="615.7" x2="190.8" y2="622.5" stroke="#2b2b2b" stroke-width="0.9"/>
<path d="M192.5,605.5 L196.5,602.5 L205.5,603.5 L201.5,606.5 Z" fill="#fff" stroke="#2b2b2b" stroke-width="0.9" />
<line x1="192.5" y1="605.5" x2="192.5" y2="610.5" stroke="#2b2b2b" stroke-width="0.9"/>
<line x1="201.5" y1="607" x2="201.3" y2="611.5" stroke="#2b2b2b" stroke-width="0.9"/>
<path d="M190.5,616.5 C188.8,622 189.5,630 194.5,636" fill="none" stroke="#2b2b2b" stroke-width="1.5" />
<path d="M197.5,611 C195,619 195.5,630 199.8,637.8" fill="none" stroke="#2b2b2b" stroke-width="1.6" />
<path d="M204,608 C201.3,617 201.6,630 205.8,639" fill="none" stroke="#2b2b2b" stroke-width="1.6" />
<path d="M211.5,604.8 C207.5,615 207.8,630 212.5,640.5" fill="none" stroke="#2b2b2b" stroke-width="1.3" />
<path d="M218.5,604 C213.5,612 213,628 218.5,641.5" fill="none" stroke="#2b2b2b" stroke-width="1.1" />
<line x1="194" y1="620.5" x2="200" y2="621.5" stroke="#2b2b2b" stroke-width="0.8"/>
<line x1="201.5" y1="618" x2="207.5" y2="619" stroke="#2b2b2b" stroke-width="0.8"/>
<line x1="195.5" y1="628.5" x2="201.5" y2="629.5" stroke="#2b2b2b" stroke-width="0.8"/>
<line x1="202" y1="627" x2="208" y2="628" stroke="#2b2b2b" stroke-width="0.8"/>
<path d="M208.5,598.6 C214,601 217,603 218.5,604 C224,606 231,607 235,610" fill="none" stroke="#2b2b2b" stroke-width="0.9" />
<path d="M217.5,594.1 C220,599 224,603 232,604.5 C236,605 238,603 240,599.75" fill="none" stroke="#2b2b2b" stroke-width="1.0" />
<path d="M224.5,590.5 L228.5,594.5 L238.5,592.5 M228.5,594.5 L228.5,600.5 M232.5,591.5 L233.5,598.5 M236.5,592.5 L236.5,598.5" fill="none" stroke="#2b2b2b" stroke-width="1.0" />
<line x1="229" y1="600" x2="240" y2="599.5" stroke="#2b2b2b" stroke-width="1.4"/>
<path d="M232,610 C227,614 224,622 225,630 C226,637 229,641 233,642" fill="none" stroke="#2b2b2b" stroke-width="1.0" />
<ellipse cx="240.5" cy="631" rx="6.8" ry="6.8" fill="#fff" stroke="#2b2b2b" stroke-width="1.0" />
<ellipse cx="243" cy="632.2" rx="4.4" ry="4.8" fill="#fff" stroke="#2b2b2b" stroke-width="1.0" />
<ellipse cx="222" cy="616.6" rx="1.4" ry="1.8" fill="#fff" stroke="#2b2b2b" stroke-width="1.3" />
<ellipse cx="238.9" cy="608.75" rx="1.4" ry="1.8" fill="#fff" stroke="#2b2b2b" stroke-width="1.3" />
<line x1="241" y1="614" x2="247" y2="616" stroke="#555" stroke-width="1.4"/>
<line x1="214" y1="633" x2="218" y2="631" stroke="#555" stroke-width="1.2"/>
<ellipse cx="265.9" cy="621.1" rx="1.9" ry="1.8" fill="#1e1e1e" stroke="#2b2b2b" stroke-width="0" />
<line x1="267" y1="622.25" x2="286.1" y2="630.1" stroke="#2b2b2b" stroke-width="1.0"/>
<ellipse cx="251" cy="630.3" rx="2.2" ry="2.1" fill="#1e1e1e" stroke="#2b2b2b" stroke-width="0" />
<line x1="252.4" y1="631.25" x2="273.75" y2="645.2" stroke="#2b2b2b" stroke-width="1.0"/>
</svg>
</body></html>
